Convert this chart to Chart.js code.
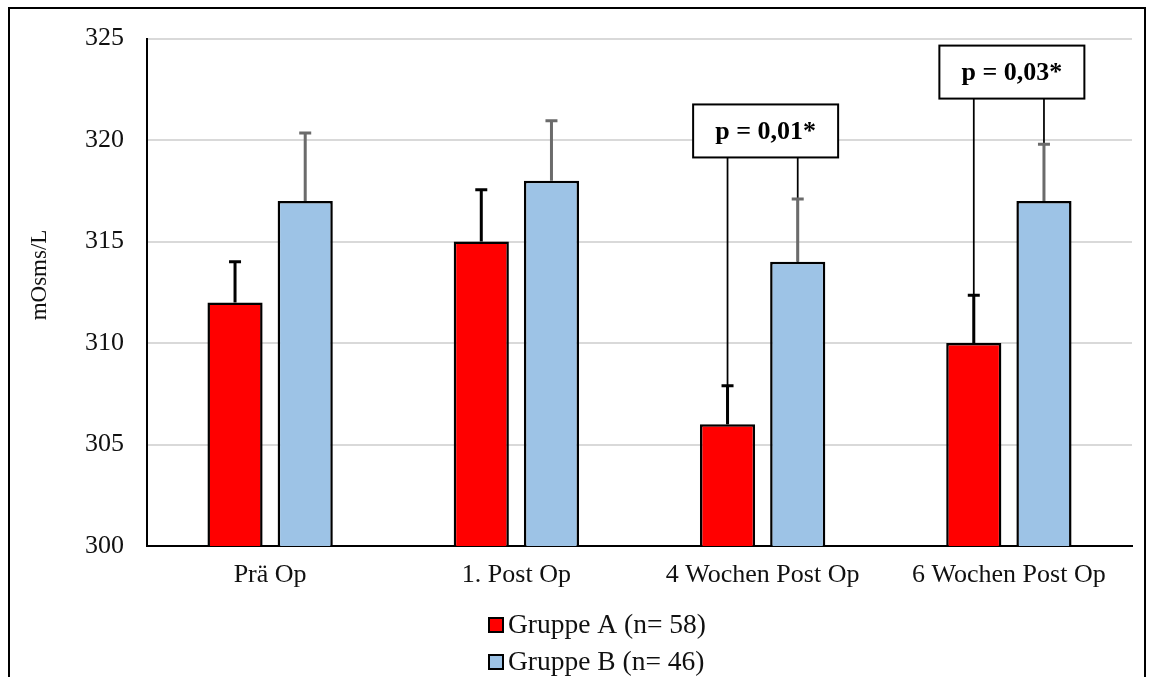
<!DOCTYPE html>
<html>
<head>
<meta charset="utf-8">
<script src="https://cdn.jsdelivr.net/npm/chart.js@4.4.0/dist/chart.umd.min.js"></script>
<style>
html,body{margin:0;padding:0;background:#fff;}
#wrap{width:1154px;height:677px;position:relative;}
</style>
</head>
<body>
<div id="wrap"><canvas id="osmo"></canvas></div>
<script>
// Zeitpunkte
var labels = ["Prä Op", "1. Post Op", "4 Wochen Post Op", "6 Wochen Post Op"];
// Mittelwerte mOsms/L
var gruppeA = [312, 315, 306, 310];
var gruppeB = [317, 318, 314, 317];
// Standardabweichung (nur nach oben gezeichnet)
var fehlerA = [2.0, 2.55, 1.9, 2.35];
var fehlerB = [3.35, 2.95, 3.1, 2.8];
// p-Werte und Höhe der Kästen
var pWerte = [null, null, "p = 0,01*", "p = 0,03*"];
var pBoxY = [null, null, 320.45, 323.35];
// y-Achse
var yTicks = [300, 305, 310, 315, 320, 325];

var schrift = "'Liberation Serif', 'Times New Roman', serif";
Chart.defaults.font.family = schrift;
Chart.defaults.color = "#111";

var extras = {
  id: 'extras',
  beforeDraw: function(chart){
    var ctx = chart.ctx;
    ctx.save();
    ctx.fillStyle = "#fff";
    ctx.fillRect(0, 0, chart.width, chart.height);
    ctx.restore();
  },
  afterDatasetsDraw: function(chart){
    var ctx = chart.ctx, y = chart.scales.y;
    var metaA = chart.getDatasetMeta(0), metaB = chart.getDatasetMeta(1);
    var boxW = 145, boxH = 53;
    ctx.save();
    // Verbindungslinien zu den p-Kästen
    pWerte.forEach(function(p, i){
      if(!p) return;
      var unten = y.getPixelForValue(pBoxY[i]) + boxH/2;
      [metaA, metaB].forEach(function(m){
        var b = m.data[i];
        ctx.strokeStyle = "#000";
        ctx.lineWidth = 1.75;
        ctx.beginPath();
        ctx.moveTo(b.x, b.y);
        ctx.lineTo(b.x, unten);
        ctx.stroke();
      });
    });
    // Fehlerbalken
    function fehler(meta, werte, err, farbe){
      meta.data.forEach(function(b, i){
        var top = y.getPixelForValue(werte[i] + err[i]);
        ctx.strokeStyle = farbe;
        ctx.lineWidth = 3;
        ctx.beginPath();
        ctx.moveTo(b.x, b.y);
        ctx.lineTo(b.x, top);
        ctx.moveTo(b.x - 6, top);
        ctx.lineTo(b.x + 6, top);
        ctx.stroke();
      });
    }
    fehler(metaA, gruppeA, fehlerA, "#000");
    fehler(metaB, gruppeB, fehlerB, "#6b6b6b");
    // p-Kästen
    pWerte.forEach(function(p, i){
      if(!p) return;
      var cx = (metaA.data[i].x + metaB.data[i].x) / 2 + 3;
      var cy = y.getPixelForValue(pBoxY[i]);
      ctx.fillStyle = "#fff";
      ctx.fillRect(cx - boxW/2, cy - boxH/2, boxW, boxH);
      ctx.strokeStyle = "#000";
      ctx.lineWidth = 2;
      ctx.strokeRect(cx - boxW/2, cy - boxH/2, boxW, boxH);
      ctx.fillStyle = "#000";
      ctx.font = "bold 26px " + schrift;
      ctx.textAlign = "center";
      ctx.textBaseline = "middle";
      ctx.fillText(p, cx, cy + 1);
    });
    ctx.restore();
  },
  afterDraw: function(chart){
    var ctx = chart.ctx;
    ctx.save();
    // Achsentitel
    ctx.translate(40, 275);
    ctx.rotate(-Math.PI/2);
    ctx.fillStyle = "#111";
    ctx.font = "23px " + schrift;
    ctx.textAlign = "center";
    ctx.textBaseline = "middle";
    ctx.fillText("mOsms/L", 0, 0);
    ctx.restore();

    // Legende
    ctx.save();
    ctx.font = "27.5px " + schrift;
    ctx.textBaseline = "middle";
    chart.data.datasets.forEach(function(ds, k){
      var ly = 625 + k * 37;
      ctx.fillStyle = ds.backgroundColor;
      ctx.fillRect(489, ly - 7, 14, 14);
      ctx.strokeStyle = "#000";
      ctx.lineWidth = 2;
      ctx.strokeRect(489, ly - 7, 14, 14);
      ctx.fillStyle = "#111";
      ctx.fillText(ds.label, 508, ly + 1);
    });
    ctx.restore();

    // Rahmen
    ctx.save();
    ctx.strokeStyle = "#000";
    ctx.lineWidth = 2;
    ctx.beginPath();
    ctx.moveTo(9, chart.height);
    ctx.lineTo(9, 8);
    ctx.lineTo(1145, 8);
    ctx.lineTo(1145, chart.height);
    ctx.stroke();
    ctx.restore();
  }
};

new Chart(document.getElementById("osmo"), {
  type: "bar",
  data: {
    labels: labels,
    datasets: [{
      label: "Gruppe A (n= 58)",
      data: gruppeA,
      backgroundColor: "#ff0000",
      borderColor: "#000",
      borderWidth: 2.5,
      borderSkipped: false,
      categoryPercentage: 0.57,
      barPercentage: 0.786
    }, {
      label: "Gruppe B (n= 46)",
      data: gruppeB,
      backgroundColor: "#9dc3e6",
      borderColor: "#000",
      borderWidth: 2.5,
      borderSkipped: false,
      categoryPercentage: 0.57,
      barPercentage: 0.786
    }]
  },
  options: {
    responsive: true,
    maintainAspectRatio: false,
    animation: false,
    layout: { padding: { top: 38, left: 10, right: 22, bottom: 71 } },
    plugins: {
      legend: { display: false },
      tooltip: { enabled: false }
    },
    scales: {
      x: {
        grid: { display: false, drawTicks: false },
        border: { color: "#000", width: 2 },
        ticks: { font: { size: 26 }, padding: 14, color: "#111" },
        afterFit: function(s){ s.height = 60; }
      },
      y: {
        min: yTicks[0],
        max: yTicks[yTicks.length - 1],
        ticks: { stepSize: yTicks[1] - yTicks[0], font: { size: 26 }, padding: 23, color: "#111" },
        grid: { color: "#d9d9d9", lineWidth: 2, drawTicks: false },
        border: { color: "#000", width: 2 },
        afterFit: function(s){ s.width = 137; }
      }
    }
  },
  plugins: [extras]
});
</script>
</body>
</html>
